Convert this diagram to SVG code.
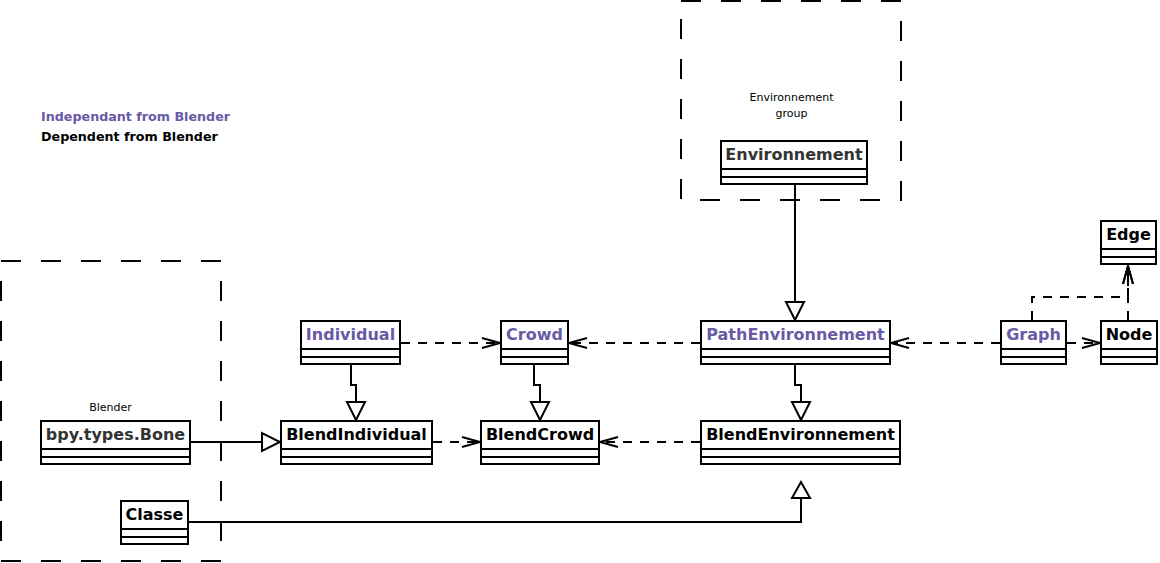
<svg xmlns="http://www.w3.org/2000/svg" width="1160" height="563" viewBox="0 0 1160 563">
<style>
.box{fill:#fff;stroke:#000;stroke-width:2}
.sep{stroke:#000;stroke-width:2}
.name{font-family:"DejaVu Sans",sans-serif;font-weight:bold;font-size:16px;text-anchor:middle}
.ind{fill:#695aa5}
.dep{fill:#000}
.grey{fill:#333}
.lbl{font-family:"DejaVu Sans",sans-serif;font-size:11px;fill:#000;text-anchor:middle}
.legend{font-family:"DejaVu Sans",sans-serif;font-weight:bold;font-size:12.7px}
.grp{fill:none;stroke:#000;stroke-width:2;stroke-dasharray:20 20}
.solid{fill:none;stroke:#000;stroke-width:2}
.dash{fill:none;stroke:#000;stroke-width:2;stroke-dasharray:9 8;marker-end:url(#open)}
.tri{fill:#fff;stroke:#000;stroke-width:2}
</style>
<defs>
<marker id="open" markerUnits="userSpaceOnUse" markerWidth="24" markerHeight="14" viewBox="-20 -7 24 14" refX="0" refY="0" orient="auto" overflow="visible">
<path d="M-18,-5 L0,0 L-18,5" fill="none" stroke="#000" stroke-width="2" stroke-dasharray="none"/>
</marker>
</defs>
<rect width="1160" height="563" fill="#fff"/>

<g id="legend">
<text class="legend ind" x="41" y="121">Independant from Blender</text>
<text class="legend dep" x="41" y="141">Dependent from Blender</text>
</g>

<g id="group-environnement">
<rect class="grp" x="681" y="1" width="220" height="199"/>
<text class="lbl" x="791.5" y="101">Environnement</text>
<text class="lbl" x="791.5" y="117">group</text>
</g>

<g id="group-blender">
<rect class="grp" x="1" y="261" width="220" height="300"/>
<text class="lbl" x="110.5" y="411">Blender</text>
</g>

<g id="connectors">
<path class="solid" d="M795,185 V302"/>
<path class="tri" d="M786,302 H804 L795,320 Z"/>
<path class="solid" d="M351,365 V385 H356 V402"/>
<path class="tri" d="M347,402 H365 L356,420 Z"/>
<path class="solid" d="M534,365 V385 H540 V402"/>
<path class="tri" d="M531,402 H549 L540,420 Z"/>
<path class="solid" d="M795,365 V385 H801 V402"/>
<path class="tri" d="M792,402 H810 L801,420 Z"/>
<path class="solid" d="M191,442 H262"/>
<path class="tri" d="M262,433 V451 L280,442 Z"/>
<path class="solid" d="M189,522 H801 V498"/>
<path class="tri" d="M792,498 H810 L801,482 Z"/>
<path class="dash" d="M401,343 H500"/>
<path class="dash" d="M700,343 H569"/>
<path class="dash" d="M433,442 H480"/>
<path class="dash" d="M700,442 H600"/>
<path class="dash" d="M1000,343 H891"/>
<path class="dash" d="M1067,343 H1100"/>
<path class="dash" d="M1032,320 V297 H1128 V266"/>
<path class="dash" d="M1128,320 V266"/>
</g>

<g id="Environnement">
<rect class="box" x="721" y="141" width="146" height="43"/>
<line class="sep" x1="721" y1="169" x2="867" y2="169"/>
<line class="sep" x1="721" y1="177" x2="867" y2="177"/>
<text class="name grey" x="794" y="160">Environnement</text>
</g>

<g id="Individual">
<rect class="box" x="301" y="321" width="99" height="43"/>
<line class="sep" x1="301" y1="349" x2="400" y2="349"/>
<line class="sep" x1="301" y1="357" x2="400" y2="357"/>
<text class="name ind" x="350.5" y="340">Individual</text>
</g>

<g id="Crowd">
<rect class="box" x="501" y="321" width="67" height="43"/>
<line class="sep" x1="501" y1="349" x2="568" y2="349"/>
<line class="sep" x1="501" y1="357" x2="568" y2="357"/>
<text class="name ind" x="534.5" y="340">Crowd</text>
</g>

<g id="PathEnvironnement">
<rect class="box" x="701" y="321" width="189" height="43"/>
<line class="sep" x1="701" y1="349" x2="890" y2="349"/>
<line class="sep" x1="701" y1="357" x2="890" y2="357"/>
<text class="name ind" x="795.5" y="340">PathEnvironnement</text>
</g>

<g id="Graph">
<rect class="box" x="1001" y="321" width="65" height="43"/>
<line class="sep" x1="1001" y1="349" x2="1066" y2="349"/>
<line class="sep" x1="1001" y1="357" x2="1066" y2="357"/>
<text class="name ind" x="1033.5" y="340">Graph</text>
</g>

<g id="Node">
<rect class="box" x="1101" y="321" width="56" height="43"/>
<line class="sep" x1="1101" y1="349" x2="1157" y2="349"/>
<line class="sep" x1="1101" y1="357" x2="1157" y2="357"/>
<text class="name dep" x="1129" y="340">Node</text>
</g>

<g id="Edge">
<rect class="box" x="1101" y="221" width="55" height="43"/>
<line class="sep" x1="1101" y1="249" x2="1156" y2="249"/>
<line class="sep" x1="1101" y1="257" x2="1156" y2="257"/>
<text class="name dep" x="1128.5" y="240">Edge</text>
</g>

<g id="BlendIndividual">
<rect class="box" x="281" y="421" width="151" height="43"/>
<line class="sep" x1="281" y1="449" x2="432" y2="449"/>
<line class="sep" x1="281" y1="457" x2="432" y2="457"/>
<text class="name dep" x="356.5" y="440">BlendIndividual</text>
</g>

<g id="BlendCrowd">
<rect class="box" x="481" y="421" width="118" height="43"/>
<line class="sep" x1="481" y1="449" x2="599" y2="449"/>
<line class="sep" x1="481" y1="457" x2="599" y2="457"/>
<text class="name dep" x="540" y="440">BlendCrowd</text>
</g>

<g id="BlendEnvironnement">
<rect class="box" x="701" y="421" width="199" height="43"/>
<line class="sep" x1="701" y1="449" x2="900" y2="449"/>
<line class="sep" x1="701" y1="457" x2="900" y2="457"/>
<text class="name dep" x="800.5" y="440">BlendEnvironnement</text>
</g>

<g id="bpy.types.Bone">
<rect class="box" x="41" y="421" width="149" height="43"/>
<line class="sep" x1="41" y1="449" x2="190" y2="449"/>
<line class="sep" x1="41" y1="457" x2="190" y2="457"/>
<text class="name grey" x="115.5" y="440">bpy.types.Bone</text>
</g>

<g id="Classe">
<rect class="box" x="121" y="501" width="67" height="43"/>
<line class="sep" x1="121" y1="529" x2="188" y2="529"/>
<line class="sep" x1="121" y1="537" x2="188" y2="537"/>
<text class="name dep" x="154.5" y="520">Classe</text>
</g>
</svg>
